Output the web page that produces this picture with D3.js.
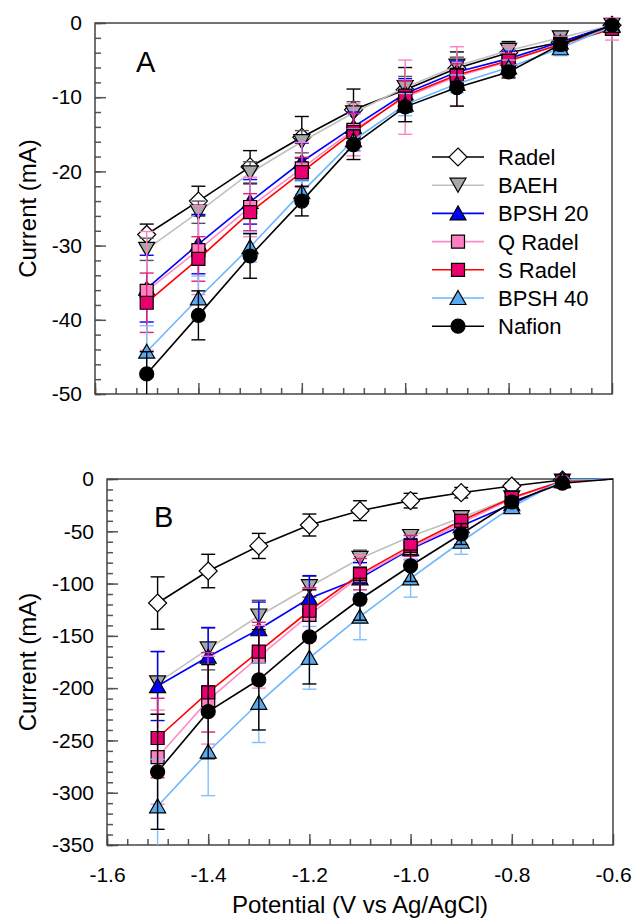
<!DOCTYPE html>
<html>
<head>
<meta charset="utf-8">
<script src="https://cdn.jsdelivr.net/npm/d3@7"></script>
<style>
  body { margin: 0; background: #fff; }
  text { font-family: "Liberation Sans", Arial, sans-serif; fill: #000; }
</style>
</head>
<body>
<script>
// potentials (V vs Ag/AgCl), same for both panels
const potentials = [-1.5, -1.4, -1.3, -1.2, -1.1, -1.0, -0.9, -0.8, -0.7, -0.6];

const seriesNames = ["Radel", "BAEH", "BPSH 20", "Q Radel", "S Radel", "BPSH 40", "Nafion"];
const lineColors = ["#000000", "#c0c0c0", "#0000ff", "#ff8cc6", "#ff0000", "#6cb6ff", "#000000"];
const fillColors = ["#ffffff", "#a8a8a8", "#0000ff", "#ff80c0", "#e8006e", "#5aaaf0", "#000000"];
const errColors  = ["#000000", "#555555", "#0000ff", "#ff80c0", "#e0207a", "#80c0ff", "#000000"];
const shapes     = ["diamond", "triDown", "triUp", "square", "square", "triUp", "circle"];

// Panel A current (mA), one row per series
const currentA = [
  [-28.5, -24.0, -19.4, -15.4, -11.7, -9.0, -6.1, -4.0, -2.6, -0.3],
  [-30.5, -25.5, -20.2, -16.0, -12.1, -8.7, -5.8, -3.7, -2.0, -0.3],
  [-35.8, -29.8, -24.1, -18.7, -14.0, -9.5, -6.6, -4.8, -2.6, -0.3],
  [-36.1, -30.6, -24.8, -19.6, -14.4, -10.0, -7.2, -5.2, -2.8, -0.8],
  [-37.7, -31.8, -25.5, -20.1, -14.7, -9.8, -7.0, -5.1, -2.9, -0.8],
  [-44.3, -37.1, -30.2, -22.8, -15.8, -11.0, -8.2, -6.0, -3.4, -0.4],
  [-47.3, -39.4, -31.4, -24.0, -16.4, -11.3, -8.7, -6.6, -2.9, -0.3]
];
const errorA = [
  [1.4, 2.0, 2.2, 2.8, 2.8, 3.0, 2.2, 1.5, 1.0, 0.3],
  [1.5, 1.5, 1.5, 1.5, 1.5, 1.5, 1.2, 1.0, 0.8, 0.3],
  [4.5, 4.0, 3.0, 2.5, 2.0, 2.0, 1.5, 1.0, 0.8, 0.3],
  [8.0, 6.0, 4.0, 3.5, 3.5, 5.0, 4.0, 2.0, 1.0, 1.5],
  [4.0, 3.0, 2.5, 2.0, 2.5, 2.0, 1.5, 1.0, 0.8, 0.5],
  [3.5, 3.0, 2.0, 1.5, 1.5, 1.5, 1.2, 1.0, 1.0, 0.3],
  [3.0, 3.3, 3.0, 2.0, 2.0, 2.0, 2.5, 0.8, 0.8, 0.3]
];

// Panel B current (mA)
const currentB = [
  [-118.6, -88, -64, -44, -30.3, -20.7, -13.1, -6.7, -1.0, 0],
  [-195, -162.5, -131, -103, -76, -55, -37, -18, -2, 0],
  [-198, -170, -143.7, -114, -95, -67, -45, -24, -2, 0],
  [-266, -211.5, -170, -130, -93, -66, -42, -19, -2, 0],
  [-247.7, -204, -165, -126, -91, -64, -40, -18, -2, 0],
  [-313, -260.8, -214, -171, -131.7, -95, -60, -26.8, -1, 0],
  [-280, -222.5, -192, -151, -115, -83, -52.6, -22, -4, 0]
];
const errorB = [
  [25, 16, 12, 10.5, 9.5, 7, 5, 3, 1, 0],
  [30, 20, 15, 10, 8, 6, 5, 3, 1, 0],
  [33, 28, 26, 21.6, 15, 10, 6, 4, 1, 0],
  [45, 42, 30, 25, 20, 12, 8, 5, 1, 0],
  [38, 38, 28, 22, 15, 10, 6, 4, 1, 0],
  [45, 42, 38, 30, 22, 18, 12, 6, 2, 0],
  [55, 45, 48, 45, 20, 15, 10, 5, 2, 0]
];

const xTickValues = [-1.6, -1.4, -1.2, -1.0, -0.8, -0.6];
const yTicksA = [0, -10, -20, -30, -40, -50];
const yTicksB = [0, -50, -100, -150, -200, -250, -300, -350];

const W = 635, H = 922;
const svg = d3.select("body").append("svg").attr("width", W).attr("height", H);

// plain hyphen for minus, like the original
const fmt = f => v => d3.format(f)(v).replace("\u2212", "-");

const symbolPaths = {
  diamond: "M0,-9L9,0L0,9L-9,0Z",
  triDown: "M-8,-7L8,-7L0,7Z",
  triUp: "M0,-7.5L8,6.5L-8,6.5Z",
  square: "M-6.5,-6.5h13v13h-13Z",
  circle: "M7,0A7,7 0 1,1 -7,0A7,7 0 1,1 7,0Z"
};

function drawPanel(p) {
  const x = d3.scaleLinear().domain([-1.6, -0.6]).range([p.left, p.right]);
  const y = d3.scaleLinear().domain([p.yMin, 0]).range([p.bottom, p.top]);
  const g = svg.append("g");

  // clip error bars at the bottom of the frame
  const clipId = "clip" + p.letter;
  g.append("clipPath").attr("id", clipId).append("rect")
    .attr("x", 0).attr("y", 0).attr("width", W).attr("height", p.bottom);

  // minor ticks
  g.append("g").attr("transform", `translate(${p.left},0)`)
    .call(d3.axisLeft(y).tickValues(d3.range(0, p.yMin - 0.001, -p.yMinor)).tickSize(-6).tickFormat(""))
    .call(a => a.select(".domain").remove());
  g.append("g").attr("transform", `translate(0,${p.bottom})`)
    .call(d3.axisBottom(x).tickValues(d3.range(-1.6, -0.6001, 0.04)).tickSize(-6).tickFormat(""))
    .call(a => a.select(".domain").remove());

  // major ticks + labels
  g.append("g").attr("transform", `translate(${p.left},0)`)
    .call(d3.axisLeft(y).tickValues(p.yTicks).tickSize(-11).tickPadding(13).tickFormat(fmt("d")))
    .call(a => a.select(".domain").remove())
    .call(a => a.selectAll("text").style("font-size", "21px"));
  const xa = g.append("g").attr("transform", `translate(0,${p.bottom})`)
    .call(d3.axisBottom(x).tickValues(xTickValues).tickSize(-11).tickPadding(22).tickFormat(fmt(".1f")))
    .call(a => a.select(".domain").remove())
    .call(a => a.selectAll("text").style("font-size", "21px"));
  if (!p.xLabels) xa.selectAll("text").remove();
  g.selectAll(".tick line").attr("stroke", "#555").attr("stroke-width", 1.5);

  g.append("rect").attr("x", p.left).attr("y", p.top)
    .attr("width", p.right - p.left).attr("height", p.bottom - p.top)
    .attr("fill", "none").attr("stroke", "#444").attr("stroke-width", 1.5);

  const line = d3.line().x(d => x(d[0])).y(d => y(d[1]));

  seriesNames.forEach((name, s) => {
    const pts = potentials.map((v, i) => [v, p.current[s][i], p.error[s][i]]);
    const sg = g.append("g");
    sg.append("path").datum(pts).attr("d", line)
      .attr("fill", "none").attr("stroke", lineColors[s]).attr("stroke-width", 1.6);

    const eb = sg.append("g").attr("clip-path", `url(#${clipId})`)
      .selectAll(".eb").data(pts.filter(d => d[2] > 0)).enter().append("g")
      .attr("stroke", errColors[s]).attr("stroke-width", 1.4);
    eb.append("line").attr("x1", d => x(d[0])).attr("x2", d => x(d[0]))
      .attr("y1", d => y(d[1] + d[2])).attr("y2", d => y(d[1] - d[2]));
    eb.append("line").attr("x1", d => x(d[0]) - 7).attr("x2", d => x(d[0]) + 7)
      .attr("y1", d => y(d[1] + d[2])).attr("y2", d => y(d[1] + d[2]));
    eb.append("line").attr("x1", d => x(d[0]) - 7).attr("x2", d => x(d[0]) + 7)
      .attr("y1", d => y(d[1] - d[2])).attr("y2", d => y(d[1] - d[2]));

    const markPts = p.lastMarker ? pts : pts.slice(0, -1);
    sg.selectAll(".mk").data(markPts).enter().append("path")
      .attr("d", symbolPaths[shapes[s]])
      .attr("transform", d => `translate(${x(d[0])},${y(d[1])})`)
      .attr("fill", fillColors[s]).attr("stroke", "#000").attr("stroke-width", 1.2);
  });

  g.append("text").attr("x", p.letterX).attr("y", p.letterY)
    .style("font-size", "29px").text(p.letter);

  g.append("text")
    .attr("transform", `translate(36,${(p.top + p.bottom) / 2}) rotate(-90)`)
    .attr("text-anchor", "middle").style("font-size", "24px").text("Current (mA)");
}

drawPanel({ left: 95, right: 612, top: 23, bottom: 394, yMin: -50, yMinor: 2, yTicks: yTicksA,
  current: currentA, error: errorA, xLabels: false, lastMarker: true,
  letter: "A", letterX: 136, letterY: 72 });

drawPanel({ left: 107, right: 613, top: 479, bottom: 845, yMin: -350, yMinor: 10, yTicks: yTicksB,
  current: currentB, error: errorB, xLabels: true, lastMarker: false,
  letter: "B", letterX: 154, letterY: 527 });

// legend
const legend = svg.append("g");
seriesNames.forEach((name, s) => {
  const ly = 157 + s * 28.2;
  legend.append("line").attr("x1", 432).attr("x2", 484).attr("y1", ly).attr("y2", ly)
    .attr("stroke", lineColors[s]).attr("stroke-width", 1.6);
  legend.append("path").attr("d", symbolPaths[shapes[s]])
    .attr("transform", `translate(458,${ly})`)
    .attr("fill", fillColors[s]).attr("stroke", "#000").attr("stroke-width", 1.2);
  legend.append("text").attr("x", 498).attr("y", ly).attr("dy", "0.36em")
    .style("font-size", "22px").text(name);
});

svg.append("text").attr("x", 360).attr("y", 913).attr("text-anchor", "middle")
  .style("font-size", "24px").text("Potential (V vs Ag/AgCl)");
</script>
</body>
</html>
